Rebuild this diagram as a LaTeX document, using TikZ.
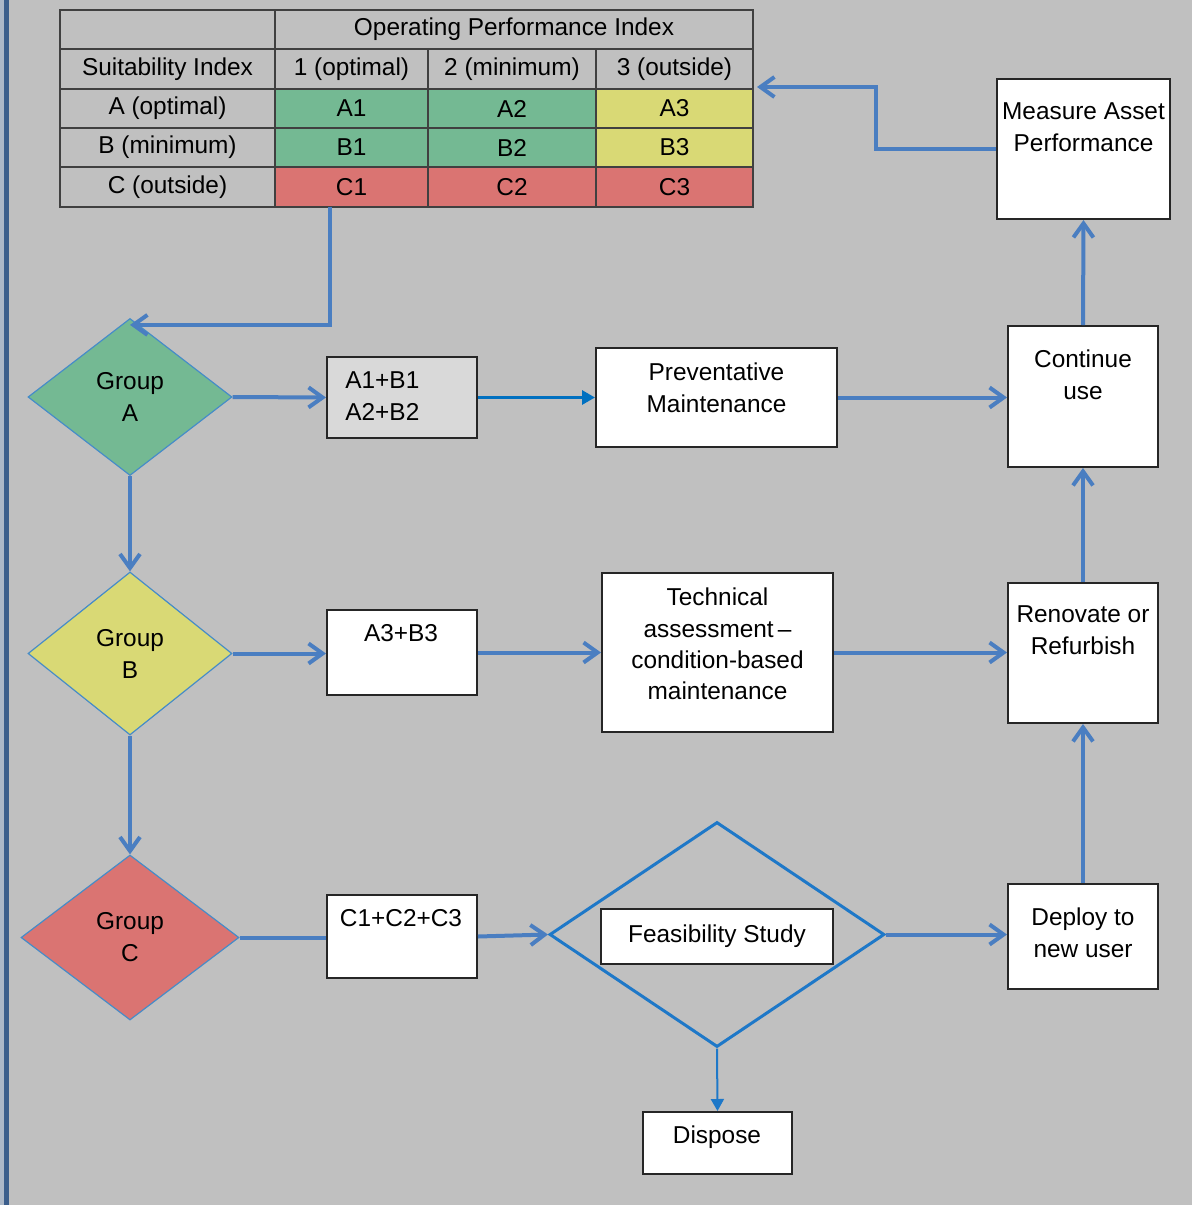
\documentclass[tikz,border=0pt]{standalone}
\usepackage{fontspec}
\setmainfont{Liberation Sans}
\usetikzlibrary{shapes.geometric,arrows.meta}
\definecolor{bg}{RGB}{192,192,192}
\definecolor{barc}{RGB}{59,94,140}
\definecolor{barlight}{RGB}{172,184,200}
\definecolor{gcol}{RGB}{116,185,147}
\definecolor{ycol}{RGB}{217,217,117}
\definecolor{rcol}{RGB}{218,116,114}
\definecolor{conn}{RGB}{74,126,193}
\definecolor{dblue}{RGB}{0,112,192}
\definecolor{fblue}{RGB}{30,120,200}
\definecolor{dline}{RGB}{70,140,200}
\definecolor{tline}{RGB}{64,64,64}
\definecolor{lgray}{RGB}{217,217,217}
\begin{document}
\begin{tikzpicture}[x=0.5pt,y=-0.5pt,
  font=\fontsize{12.2}{16}\selectfont,
  cell/.style={draw=tline,line width=1.2pt,inner sep=0pt,outer sep=0pt,rectangle},
  w0/.style={minimum width=107.5pt},
  w1/.style={minimum width=76.5pt},
  w2/.style={minimum width=84pt},
  w3/.style={minimum width=78.5pt},
  hA/.style={minimum height=19.5pt},
  hB/.style={minimum height=20pt},
  box/.style={draw=black!85,line width=1pt,fill=white,inner sep=0pt,rectangle},
  txt/.style={align=center,inner sep=0pt},
  gdia/.style={diamond,draw=dline,line width=0.6pt,inner sep=0pt,align=center,aspect=1},
  conn/.style={draw=conn,line width=2pt},
  barb/.style={conn,-{Straight Barb[length=7pt,width=10pt]}},
  dconn/.style={draw=dblue,line width=1.5pt,-{Triangle[length=6.5pt,width=7pt]}},
  fconn/.style={draw=fblue,line width=1pt,-{Triangle[length=6pt,width=6.5pt]}}
]
\fill[bg] (0,0) rectangle (1192,1205);
\useasboundingbox (0,0) rectangle (1192,1205);
\fill[barlight] (0,0) rectangle (3.5,1205);
\fill[barc] (3.5,0) rectangle (9,1205);

% table
\node[cell,w0,hA] (t00) at (167.5,29.5) {};
\node[cell,minimum width=239pt,hA] (thead) at (514,29.5) {Operating Performance Index};
\node[cell,w0,hB] (t10) at (167.5,69) {Suitability Index};
\node[cell,w1,hB] (t11) at (351.5,69) {1 (optimal)};
\node[cell,w2,hB] (t12) at (512,69) {2 (minimum)};
\node[cell,w3,hB] (t13) at (674.5,69) {3 (outside)};
\node[cell,w0,hA] (tA0) at (167.5,108.5) {A (optimal)};
\node[cell,w1,hA,fill=gcol] (tA1) at (351.5,108.5) {A1};
\node[cell,w2,hA,fill=gcol] (tA2) at (512,108.5) {A2};
\node[cell,w3,hA,fill=ycol] (tA3) at (674.5,108.5) {A3};
\node[cell,w0,hA] (tB0) at (167.5,147.5) {B (minimum)};
\node[cell,w1,hA,fill=gcol] (tB1) at (351.5,147.5) {B1};
\node[cell,w2,hA,fill=gcol] (tB2) at (512,147.5) {B2};
\node[cell,w3,hA,fill=ycol] (tB3) at (674.5,147.5) {B3};
\node[cell,w0,hB] (tC0) at (167.5,187) {C (outside)};
\node[cell,w1,hB,fill=rcol] (tC1) at (351.5,187) {C1};
\node[cell,w2,hB,fill=rcol] (tC2) at (512,187) {C2};
\node[cell,w3,hB,fill=rcol] (tC3) at (674.5,187) {C3};

% diamonds
\node[gdia,fill=gcol,minimum width=102pt,minimum height=78.5pt] (gA) at (130,397) {Group\\A};
\node[gdia,fill=ycol,minimum width=102pt,minimum height=81.5pt] (gB) at (130,653.5) {Group\\B};
\node[gdia,fill=rcol,minimum width=109pt,minimum height=82.5pt] (gC) at (130,937.5) {Group\\C};
\node[diamond,draw=fblue,line width=1.5pt,inner sep=0pt,minimum width=167.5pt,minimum height=112.5pt] (fs) at (717,934.5) {};

% boxes
\node[box,fill=lgray,minimum width=75pt,minimum height=40.5pt] (ab) at (402,397.5) {};
\node[txt,anchor=west,align=left] (abt) at (345,396.5) {A1+B1\\A2+B2};
\node[box,minimum width=75pt,minimum height=42.5pt] (a3) at (402,652.5) {};
\node[txt] (a3t) at (401,633) {A3+B3};
\node[box,minimum width=75pt,minimum height=41.5pt] (c3) at (402,936.5) {};
\node[txt] (c3t) at (401,918) {C1+C2+C3};
\node[box,minimum width=120.5pt,minimum height=49.5pt] (pm) at (716.5,397.5) {};
\node[txt] (pmt) at (716.5,388) {Preventative\\Maintenance};
\node[box,minimum width=115.5pt,minimum height=79.5pt] (ta) at (717.5,652.5) {};
\node[txt,font=\fontsize{12.2}{15.7}\selectfont] (tat) at (717.5,644) {Technical\\assessment\,–\\condition-based\\maintenance};
\node[box,minimum width=116pt,minimum height=27.5pt] (fsb) at (717,936.5) {Feasibility Study};
\node[box,minimum width=74.5pt,minimum height=31pt] (dp) at (717.5,1143) {};
\node[txt] (dpt) at (717,1137) {Dispose};
\node[box,minimum width=86.5pt,minimum height=70pt] (ma) at (1083.5,149) {};
\node[txt] (mat) at (1083.5,127) {Measure Asset\\Performance};
\node[box,minimum width=75pt,minimum height=70.5pt] (cu) at (1083,396.5) {};
\node[txt] (cut) at (1083,375) {Continue\\use};
\node[box,minimum width=75pt,minimum height=70pt] (rr) at (1083,653) {};
\node[txt] (rrt) at (1083,630) {Renovate or\\Refurbish};
\node[box,minimum width=75pt,minimum height=52.5pt] (dn) at (1083,936.5) {};
\node[txt] (dnt) at (1083,933) {Deploy to\\new user};

% connectors
\draw[barb] ([xshift=-10.75pt]tC1.south) |- ([yshift=-3.5pt]gA.north);
\draw[barb] (gA.east) -- (ab.west);
\draw[dconn] (ab.east) -- (pm.west);
\draw[barb] (pm.east) -- (pm.east -| cu.west);
\draw[barb] (gA.south) -- (gB.north);
\draw[barb] (gB.east) -- (gB.east -| a3.west);
\draw[barb] (a3.east) -- (a3.east -| ta.west);
\draw[barb] (ta.east) -- (ta.east -| rr.west);
\draw[barb] (gB.south) -- (gC.north);
\draw[conn] (gC.east) -- (gC.east -| c3.west);
\draw[barb] (c3.east) -- (fs.west);
\draw[barb] (fs.east) -- (fs.east -| dn.west);
\draw[fconn] (fs.south) -- (dp.north);
\draw[barb] (dn.north) -- (rr.south);
\draw[barb] (rr.north) -- (cu.south);
\draw[barb] (cu.north) -- (ma.south);
\draw[barb] (ma.west) -- ++(-60pt,0) |- ([xshift=2pt,yshift=1pt]tA3.north east);
\end{tikzpicture}
\end{document}
